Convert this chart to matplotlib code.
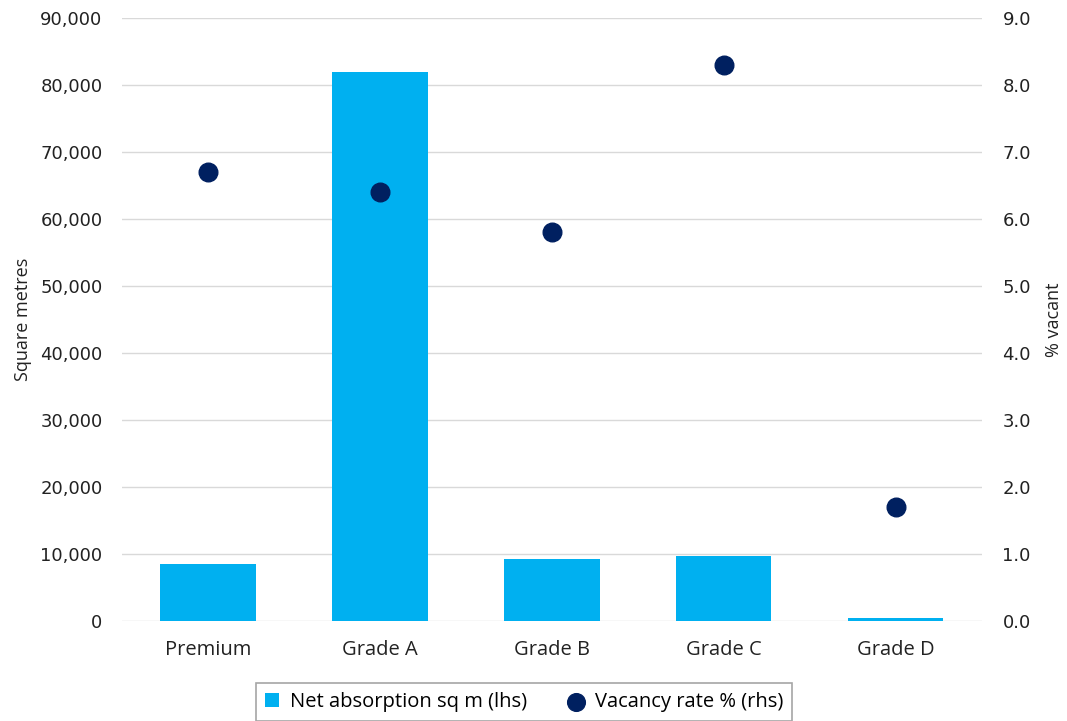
import numpy as np
import matplotlib.pyplot as plt
from matplotlib.ticker import FuncFormatter

# Datos
categories = ['Premium', 'Grade A', 'Grade B', 'Grade C', 'Grade D']
absorption = [8500, 82000, 9200, 9700, 500]
vacancy = [6.7, 6.4, 5.8, 8.3, 1.7]

bar_color = '#00B0F0'
dot_color = '#002060'
tick_font = 'DejaVu Sans'
label_font = 'Open Sans'

fig = plt.figure(figsize=(10.67, 7.21), dpi=100)
ax = fig.add_axes([0.1143, 0.1387, 0.8057, 0.8363])
ax2 = ax.twinx()

x = np.arange(len(categories))

# Barras (eje izquierdo)
ax.bar(x, absorption, width=0.555, color=bar_color, zorder=2,
       label='Net absorption sq m (lhs)')
ax.set_ylim(0, 90000)
ax.set_yticks(np.arange(0, 90001, 10000))
ax.yaxis.set_major_formatter(FuncFormatter(lambda v, p: f'{v:,.0f}'))
ax.set_xlim(-0.5, len(categories) - 0.5)
ax.set_xticks(x)
ax.set_xticklabels(categories, fontfamily=label_font, fontsize=14.5, color='#222222')
ax.grid(axis='y', color='#d9d9d9', linewidth=1, zorder=0)
ax.set_axisbelow(True)
ax.set_ylabel('Square metres', fontfamily=label_font, fontsize=13, color='#222222',
              labelpad=6)

# Puntos (eje derecho)
ax2.scatter(x, vacancy, s=180, color=dot_color, zorder=3,
            label='Vacancy rate % (rhs)')
ax2.set_ylim(0, 9)
ax2.set_yticks(np.arange(0, 9.01, 1))
ax2.yaxis.set_major_formatter(FuncFormatter(lambda v, p: f'{v:.1f}'))
ax2.set_ylabel('% vacant', fontfamily=label_font, fontsize=13, color='#222222',
               labelpad=10)

for a in (ax, ax2):
    for s in a.spines.values():
        s.set_visible(False)
    a.tick_params(length=0)
for lab in ax.get_yticklabels() + ax2.get_yticklabels():
    lab.set_fontfamily(tick_font)
    lab.set_fontsize(13)
    lab.set_color('#222222')
ax.tick_params(axis='y', pad=14)
ax2.tick_params(axis='y', pad=15)
ax.tick_params(axis='x', pad=14)

# Leyenda
h1, l1 = ax.get_legend_handles_labels()
h2, l2 = ax2.get_legend_handles_labels()
leg = fig.legend(h1 + h2, l1 + l2, loc='upper center', bbox_to_anchor=(0.491, 0.053),
                 ncol=2, fancybox=False, edgecolor='#a6a6a6', framealpha=1,
                 prop={'family': label_font, 'size': 14.5}, handlelength=0.7,
                 handleheight=0.7, handletextpad=0.55, columnspacing=2.1,
                 borderpad=0.45, borderaxespad=0, markerscale=0.95)
leg.get_frame().set_linewidth(1.2)

plt.savefig('out.png', dpi=100)
